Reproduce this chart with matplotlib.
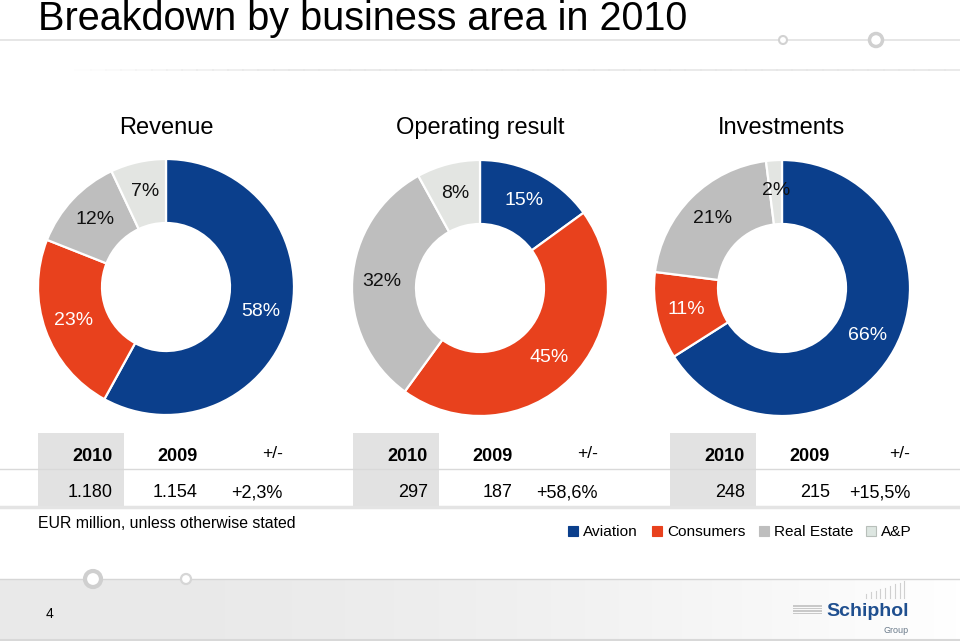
import matplotlib
matplotlib.use("Agg")
import matplotlib.pyplot as plt
from matplotlib.patches import Rectangle, Circle
import numpy as np

plt.rcParams['font.family'] = ['Liberation Sans', 'DejaVu Sans']

# ---------------- data ----------------
segments = ["Aviation", "Consumers", "Real Estate", "A&P"]
panel_titles = ["Revenue", "Operating result", "Investments"]
revenue_share = [58, 23, 12, 7]
operating_share = [15, 45, 32, 8]
investments_share = [66, 11, 21, 2]
table_header = ["2010", "2009", "+/-"]
revenue_row = ["1.180", "1.154", "+2,3%"]
operating_row = ["297", "187", "+58,6%"]
investments_row = ["248", "215", "+15,5%"]
title = "Breakdown by business area in 2010"
note = "EUR million, unless otherwise stated"
page_no = "4"

colors = ["#0B3F8C", "#E8411D", "#BEBEBE", "#E3E5E2"]
label_colors = ["white", "white", "#111111", "#111111"]

W, H = 960, 641
fig = plt.figure(figsize=(W / 100, H / 100), dpi=100)
fig.patch.set_facecolor("white")

bg = fig.add_axes([0, 0, 1, 1])
bg.set_xlim(0, W)
bg.set_ylim(H, 0)
bg.axis("off")

# ---------- header decoration ----------
bg.plot([0, W], [40, 40], color="#E2E2E2", lw=1.2, zorder=1)
n = 60
xs = np.linspace(60, W, n)
for i in range(n - 1):
    a = min(1.0, i / 15)
    bg.plot(xs[i:i + 2], [70, 70], color="#E6E6E6", lw=1.2, alpha=a, zorder=1)
bg.add_patch(Circle((783, 40), 4, facecolor="white", edgecolor="#D2D2D2", lw=1.5, zorder=2))
bg.add_patch(Circle((876, 40), 6.5, facecolor="white", edgecolor="#D0D0D0", lw=2.5, zorder=2))

bg.text(38, 30, title, fontsize=28.5, color="black", ha="left", va="baseline")

# ---------- donuts ----------
centers = [(166, 287), (480, 288), (782, 288)]
R = 128
shares = [revenue_share, operating_share, investments_share]
for (cx, cy), vals, ttl in zip(centers, shares, panel_titles):
    ax = fig.add_axes([(cx - R) / W, (H - cy - R) / H, 2 * R / W, 2 * R / H])
    wedges, texts, autotexts = ax.pie(
        vals, colors=colors, startangle=90, counterclock=False, radius=1.0,
        autopct="%1.0f%%", pctdistance=0.765,
        wedgeprops=dict(width=0.5, edgecolor="white", linewidth=1.6),
        textprops=dict(fontsize=14))
    for t, v, c in zip(autotexts, vals, label_colors):
        t.set_text(f"{v}%")
        t.set_color(c)
    ax.set_xlim(-1.0, 1.0)
    ax.set_ylim(-1.0, 1.0)
    ax.set_aspect("equal")
    ax.axis("off")
    bg.text(cx, 134, ttl, fontsize=17, ha="center", va="baseline")

# ---------- tables ----------
bg.plot([0, W], [469, 469], color="#D9D9D9", lw=1.0, zorder=1)
bg.plot([0, W], [506.5, 506.5], color="#E4E4E4", lw=2.5, zorder=1)
table_rights = [(113, 198, 283), (428, 513, 598), (745, 830, 910)]
rows = [revenue_row, operating_row, investments_row]
for rights, row in zip(table_rights, rows):
    bg.add_patch(Rectangle((rights[0] - 75, 433), 86, 73, facecolor="#E2E2E2",
                           edgecolor="none", zorder=0.5))
    for j, (hx, hd, val) in enumerate(zip(rights, table_header, row)):
        if j < 2:
            bg.text(hx, 461, hd, fontsize=13, fontweight="bold", ha="right", va="baseline")
        else:
            bg.text(hx, 458, hd, fontsize=12.5, ha="right", va="baseline")
        bg.text(hx, 497, val, fontsize=13, ha="right", va="baseline")

bg.text(38, 528, note, fontsize=11.4, ha="left", va="baseline")

# ---------- legend ----------
leg_x = [568, 652, 759, 866]
for x, lab, c in zip(leg_x, segments, colors):
    ec = "#B8BFBA" if lab == "A&P" else c
    fc = "#DDE6E1" if lab == "A&P" else c
    bg.add_patch(Rectangle((x, 526), 10, 10, facecolor=fc, edgecolor=ec, lw=0.8))
    bg.text(x + 15, 536, lab, fontsize=11.1, ha="left", va="baseline")

# ---------- footer ----------
grad = np.linspace(0, 1, 256)
band = np.ones((2, 256, 3))
start = np.array([0.915, 0.915, 0.915])
for k in range(256):
    g = grad[k]
    band[:, k, :] = start + (1 - start) * np.clip((g - 0.15) / 0.85, 0, 1) ** 1.5
bg.imshow(band, extent=[0, W, 639, 579], aspect="auto", zorder=0.2)
bg.plot([0, W], [579, 579], color="#D6D6D6", lw=1.0, zorder=1)
bg.plot([0, W], [639.5, 639.5], color="#D8D8D8", lw=1.5, zorder=1)
bg.add_patch(Circle((93, 579), 8, facecolor="white", edgecolor="#CFCFCF", lw=3, zorder=2))
bg.add_patch(Circle((186, 579), 5, facecolor="white", edgecolor="#D6D6D6", lw=1.6, zorder=2))
bg.text(49, 618, page_no, fontsize=10, ha="center", va="baseline")

# logo
for k in range(4):
    bg.add_patch(Rectangle((793, 605 + k * 2.6), 29, 1.6, facecolor="#C9C9C9",
                           edgecolor="none", zorder=2))
for k in range(9):
    x = 866 + k * 4.8
    bg.plot([x, x], [598, 594 - k * 1.6], color="#D0D0D0", lw=0.8, zorder=2)
bg.text(826, 616, "Schiphol", fontsize=14, fontweight="bold", color="#1F4F8F",
        ha="left", va="baseline")
bg.text(909, 633, "Group", fontsize=6.5, color="#6A7A8A", ha="right", va="baseline")

fig.savefig("out.png", dpi=100)
